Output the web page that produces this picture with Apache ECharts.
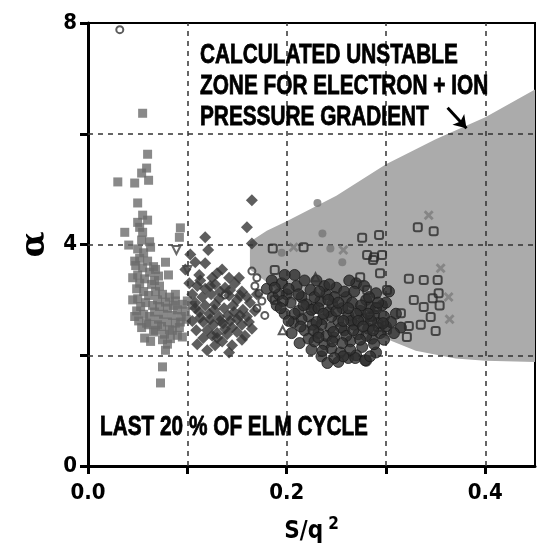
<!DOCTYPE html>
<html>
<head>
<meta charset="utf-8">
<script src="https://cdn.jsdelivr.net/npm/echarts@6/dist/echarts.min.js"></script>
<style>
html, body { margin: 0; padding: 0; background: #fff; }
#chart { width: 537px; height: 551px; }
</style>
</head>
<body>
<div id="chart"></div>
<script>
var FONT = '"DejaVu Sans Condensed", "Liberation Sans", sans-serif';
var NOTE_FONT = 'bold 27px "Liberation Sans", Arial, sans-serif';

var X_TICK_LABELS = ['0.0', '', '0.2', '', '0.4'];
var Y_TICK_LABELS = ['0', '', '4', '', '8'];

// calculated unstable zone (upper edge left->right, lower edge left->right)
var ZONE_UPPER = [[0.163, 4.05], [0.18, 4.25], [0.2, 4.42], [0.25, 4.88], [0.3, 5.45], [0.35, 5.9], [0.4, 6.3], [0.45, 6.8]];
var ZONE_LOWER = [[0.163, 3.55], [0.2, 3.05], [0.25, 2.65], [0.3, 2.3], [0.33, 2.08], [0.37, 1.94], [0.4, 1.9], [0.45, 1.88]];

var GRID_X = [0.1, 0.2, 0.3, 0.4];
var GRID_Y = [2, 4, 6];

var leftSquares = [
	[0.055,6.37],[0.060,5.63],[0.059,5.38],[0.054,5.29],[0.061,5.16],[0.030,5.13],[0.047,5.11],
	[0.050,4.75],[0.055,4.53],[0.060,4.44],[0.050,4.40],[0.052,4.31],[0.055,4.22],[0.037,4.22],
	[0.041,3.99],[0.093,4.30],[0.092,4.13],[0.054,4.08],
	[0.050,3.92],[0.056,3.85],[0.052,3.75],[0.060,3.70],[0.048,3.62],[0.055,3.58],[0.062,3.50],
	[0.050,3.45],[0.057,3.38],[0.052,3.30],[0.064,3.28],[0.049,3.20],[0.056,3.15],[0.061,3.08],
	[0.050,3.02],[0.058,2.95],[0.053,2.88],[0.065,2.90],[0.049,2.80],[0.056,2.74],[0.062,2.70],
	[0.051,2.62],[0.059,2.58],[0.054,2.50],[0.061,2.55],[0.057,2.31],[0.066,2.42],
	[0.068,3.15],[0.075,3.10],[0.082,3.05],[0.070,3.00],[0.078,2.96],[0.088,2.98],[0.095,2.92],
	[0.072,2.88],[0.080,2.85],[0.090,2.82],[0.067,2.78],[0.076,2.74],[0.085,2.72],[0.094,2.70],
	[0.071,2.65],[0.080,2.60],[0.088,2.58],[0.074,2.52],[0.082,2.46],[0.068,2.45],[0.077,2.38],
	[0.090,2.36],[0.095,2.33],[0.075,2.28],[0.080,2.20],[0.078,2.09],[0.075,1.79],[0.073,1.50],
	[0.078,3.68],[0.081,3.45],[0.071,3.43],[0.068,3.55],[0.100,2.98],[0.105,2.90],[0.098,2.80],
	[0.047,3.70],[0.063,3.95],[0.045,3.40],[0.066,3.60],[0.045,3.00],[0.047,2.70],[0.067,3.35],
	[0.070,2.55],[0.085,2.45],[0.092,2.50],[0.086,2.90],[0.072,3.25],[0.063,2.25],[0.083,2.30],
	[0.093,2.60],[0.099,2.65],[0.088,3.10],[0.062,4.05]
];

var midDiamonds = [
	[0.118,4.13],[0.121,3.90],[0.118,3.66],[0.108,3.68],[0.103,3.82],[0.112,3.45],[0.125,3.40],
	[0.135,3.55],[0.102,3.30],[0.110,3.25],[0.118,3.20],[0.128,3.28],[0.138,3.22],[0.148,3.30],
	[0.155,3.15],[0.105,3.10],[0.115,3.05],[0.124,3.10],[0.132,3.02],[0.142,3.08],[0.150,3.00],
	[0.160,3.05],[0.108,2.95],[0.118,2.90],[0.128,2.92],[0.137,2.85],[0.146,2.90],[0.156,2.82],
	[0.112,2.78],[0.122,2.75],[0.132,2.70],[0.141,2.72],[0.150,2.65],[0.160,2.70],[0.105,2.62],
	[0.116,2.60],[0.126,2.55],[0.136,2.58],[0.145,2.50],[0.155,2.55],[0.120,2.45],[0.130,2.40],
	[0.140,2.38],[0.150,2.42],[0.116,2.31],[0.130,2.31],[0.145,2.18],[0.120,2.09],[0.135,2.25],
	[0.158,2.35],[0.165,2.48],[0.168,2.80],[0.170,3.10],[0.165,4.02],[0.160,4.31],[0.165,4.80],
	[0.098,3.55],[0.113,3.35],[0.123,3.25],[0.133,3.15],[0.143,3.18],[0.153,3.08],[0.163,2.95],
	[0.108,2.85],[0.127,2.82],[0.147,2.78],[0.113,2.68],[0.133,2.62],[0.153,2.72],[0.123,2.65],
	[0.143,2.62],[0.109,2.45],[0.125,2.35],[0.138,2.48],[0.155,2.28],[0.162,2.60],[0.128,2.18],
	[0.142,2.05],[0.110,2.20],[0.152,3.40],[0.142,3.40],[0.130,3.48]
];

var rightCircles = [
	[0.180,3.20],[0.186,3.05],[0.190,2.90],[0.195,3.30],[0.198,2.75],[0.200,3.10],[0.204,2.95],
	[0.207,2.60],[0.210,3.25],[0.212,2.80],[0.215,3.05],[0.218,2.45],[0.220,2.92],[0.222,2.70],
	[0.224,3.18],[0.226,2.55],[0.228,2.85],[0.230,3.35],[0.232,2.40],[0.234,2.98],[0.236,2.65],
	[0.238,2.20],[0.240,3.10],[0.242,2.78],[0.244,2.50],[0.246,2.92],[0.248,2.32],[0.250,3.22],
	[0.252,2.62],[0.254,2.05],[0.256,2.85],[0.258,2.45],[0.260,3.05],[0.262,2.72],[0.264,2.25],
	[0.266,2.95],[0.268,2.55],[0.270,3.30],[0.272,2.38],[0.274,2.80],[0.276,2.15],[0.278,2.65],
	[0.280,3.00],[0.282,2.48],[0.284,2.88],[0.286,2.30],[0.288,2.72],[0.290,3.12],[0.292,2.58],
	[0.294,2.40],[0.296,2.90],[0.298,2.70],[0.300,2.52],
	[0.205,2.40],[0.213,2.22],[0.225,2.10],[0.235,1.98],[0.245,2.12],[0.252,1.88],[0.262,1.95],
	[0.270,2.00],[0.280,1.90],[0.290,2.05],[0.241,1.86],[0.269,1.95],[0.279,1.91],
	[0.215,2.65],[0.225,2.82],[0.235,2.55],[0.245,2.70],[0.255,2.50],[0.265,2.62],[0.275,2.90],
	[0.285,2.62],[0.250,2.80],[0.260,2.35],[0.240,2.35],[0.230,2.60],[0.270,2.75],[0.280,2.35],
	[0.258,3.15],[0.248,3.05],[0.238,3.25],[0.268,3.15],[0.278,3.25],[0.228,3.05],[0.218,3.35],
	[0.208,3.45],[0.290,2.85],[0.300,2.95],[0.310,2.75],[0.305,2.60],[0.315,2.50],
	[0.222,2.30],[0.232,2.85],[0.242,3.00],[0.252,2.95],[0.262,2.85],[0.272,2.62],[0.282,2.75],
	[0.292,2.95],[0.227,2.45],[0.237,2.75],[0.247,2.42],[0.257,2.62],[0.267,2.45],[0.277,2.52],
	[0.287,2.45],[0.297,2.58],[0.217,2.90],[0.212,3.10],[0.202,3.20],[0.192,3.10],[0.185,3.35],
	[0.198,3.45],[0.233,3.15],[0.243,3.28],[0.263,3.35],[0.283,3.05],[0.303,3.15],[0.308,2.40],
	[0.298,2.28],[0.288,2.20],[0.274,2.28],[0.256,2.22],[0.246,2.25],[0.236,2.08],[0.228,2.25],
	[0.264,2.10],[0.284,1.98],[0.257,1.98],[0.248,1.95],[0.232,2.32],[0.214,2.52],[0.208,2.75],
	[0.196,2.98],[0.188,3.22],[0.194,2.85],[0.202,2.62]
];

var openCircles = [
	[0.165,3.52],[0.170,3.40],[0.168,3.25],[0.172,3.12],[0.175,2.98],[0.170,2.85],[0.178,2.72],
	[0.138,3.09],[0.032,7.88]
];

var openSquares = [
	[0.332,4.31],[0.348,4.24],[0.323,3.38],[0.338,3.36],[0.352,3.36],[0.353,3.12],[0.347,3.03],
	[0.328,3.00],[0.338,2.87],[0.354,2.90],[0.315,2.76],[0.345,2.69],[0.335,2.55],[0.323,2.53],
	[0.350,2.44],[0.301,3.18],[0.301,2.46],[0.321,2.33],[0.293,4.17],[0.276,4.12],[0.288,3.77],
	[0.296,3.81],[0.217,3.95],[0.274,3.41],[0.281,3.18],[0.291,2.87],[0.284,2.69],[0.292,2.51],
	[0.186,3.93],[0.188,3.00],[0.281,3.81],[0.287,3.72],[0.294,3.48],[0.188,3.54]
];

var grayCircles = [[0.231,4.75],[0.236,4.20],[0.256,3.68],[0.244,3.93],[0.195,3.85]];

var crosses = [[0.343,4.53],[0.355,3.57],[0.363,3.05],[0.364,2.65],[0.207,3.95],[0.257,3.90]];

var triangles = [[0.196,2.45],[0.229,3.41]];
var downTriangles = [[0.089,3.90],[0.100,3.54]];

var ARROW = [[0.362,6.47],[0.381,6.10]];

function xLabel(v) {
	var i = Math.round(v / 0.1);
	if (Math.abs(v - i * 0.1) > 1e-6) return '';
	return X_TICK_LABELS[i] || '';
}
function yLabel(v) {
	return Y_TICK_LABELS[Math.round(v / 2)] || '';
}

function renderZone(params, api) {
	var pts = [];
	ZONE_UPPER.forEach(function(p){ pts.push(api.coord(p)); });
	for (var i = ZONE_LOWER.length - 1; i >= 0; i--) {
		pts.push(api.coord(ZONE_LOWER[i]));
	}
	return {
		type: 'polygon',
		shape: { points: pts },
		style: { fill: '#ababab' }
	};
}

function scatter(data, symbol, size, style) {
	return {
		type: 'scatter',
		data: data,
		symbol: symbol,
		symbolSize: size,
		itemStyle: style,
		z: 10,
		silent: true,
		animation: false
	};
}

var gridLines = [];
GRID_X.forEach(function(v){ gridLines.push({ xAxis: v }); });
GRID_Y.forEach(function(v){ gridLines.push({ yAxis: v }); });

var XMARK = 'path://M0,2L2,0L5,3L8,0L10,2L7,5L10,8L8,10L5,7L2,10L0,8L3,5Z';

var option = {
	animation: false,
	grid: { left: 88, right: 2, top: 23, bottom: 85, show: true, borderColor: '#000', borderWidth: 2 },
	xAxis: {
		type: 'value', min: 0, max: 0.45, interval: 0.1,
		name: '{a|S/q}{s|2}', nameLocation: 'middle', nameGap: 50,
		nameTextStyle: {
			rich: {
				a: { fontFamily: FONT, fontWeight: 'bold', fontSize: 24, color: '#000' },
				s: { fontFamily: FONT, fontWeight: 'bold', fontSize: 17, color: '#000', padding: [0, 0, 14, 5] }
			}
		},
		axisLine: { lineStyle: { color: '#000', width: 3 } },
		axisTick: { length: 8, lineStyle: { color: '#000', width: 3 } },
		axisLabel: { formatter: xLabel, margin: 16, fontFamily: FONT, fontWeight: 'bold', fontSize: 22, color: '#000', showMaxLabel: false },
		splitLine: { show: false }
	},
	yAxis: {
		type: 'value', min: 0, max: 8, interval: 2,
		name: 'α', nameLocation: 'middle', nameGap: 32, nameRotate: 90,
		nameTextStyle: { fontFamily: 'DejaVu Serif', fontWeight: 'bold', fontSize: 34, color: '#000' },
		axisLine: { lineStyle: { color: '#000', width: 3 } },
		axisTick: { length: 8, lineStyle: { color: '#000', width: 3 } },
		axisLabel: { formatter: yLabel, margin: 11, fontFamily: FONT, fontWeight: 'bold', fontSize: 22, color: '#000' },
		splitLine: { show: false }
	},
	graphic: [
		{ type: 'text', x: 200, y: 40, scaleX: 0.77, z: 20,
		  style: { x: 0, y: 0, text: 'CALCULATED UNSTABLE\nZONE FOR ELECTRON + ION\nPRESSURE GRADIENT',
		           font: NOTE_FONT, lineHeight: 31, verticalAlign: 'top', fill: '#000',
		           stroke: '#000', lineWidth: 0.8 } },
		{ type: 'text', x: 100, y: 414, scaleX: 0.77, z: 20,
		  style: { x: 0, y: 0, text: 'LAST 20 % OF ELM CYCLE', font: NOTE_FONT, verticalAlign: 'top', fill: '#000',
		           stroke: '#000', lineWidth: 0.8 } }
	],
	series: [
		{
			type: 'custom',
			renderItem: renderZone,
			data: [0],
			clip: true,
			silent: true,
			z: 1,
			markLine: {
				silent: true, symbol: 'none', animation: false,
				label: { show: false },
				lineStyle: { color: '#333', width: 1.5, type: [5, 5] },
				data: gridLines
			}
		},
		scatter(leftSquares, 'rect', 9, { color: '#6c6c6c' }),
		scatter(midDiamonds, 'diamond', 12, { color: '#363636' }),
		scatter(rightCircles, 'circle', 11, { color: '#303030', borderColor: '#1c1c1c', borderWidth: 1 }),
		scatter(openCircles, 'circle', 7, { color: 'rgba(0,0,0,0)', borderColor: '#333', borderWidth: 2 }),
		scatter(openSquares, 'roundRect', 8, { color: 'rgba(0,0,0,0)', borderColor: '#2a2a2a', borderWidth: 2 }),
		scatter(grayCircles, 'circle', 8, { color: '#777' }),
		scatter(crosses, XMARK, 10, { color: '#7c7c7c' }),
		scatter(triangles, 'triangle', 8, { color: 'rgba(0,0,0,0)', borderColor: '#333', borderWidth: 2 }),
		{
			type: 'scatter',
			data: downTriangles,
			symbol: 'triangle',
			symbolRotate: 180,
			symbolSize: 8,
			itemStyle: { color: 'rgba(0,0,0,0)', borderColor: '#444', borderWidth: 2 },
			z: 10,
			silent: true,
			markLine: {
				silent: true, animation: false,
				symbol: ['none', 'arrow'], symbolSize: 12,
				label: { show: false },
				lineStyle: { color: '#000', width: 3, type: 'solid' },
				data: [[{ coord: ARROW[0] }, { coord: ARROW[1] }]]
			}
		}
	]
};

var chart = echarts.init(document.getElementById('chart'));
chart.setOption(option);
</script>
</body>
</html>
